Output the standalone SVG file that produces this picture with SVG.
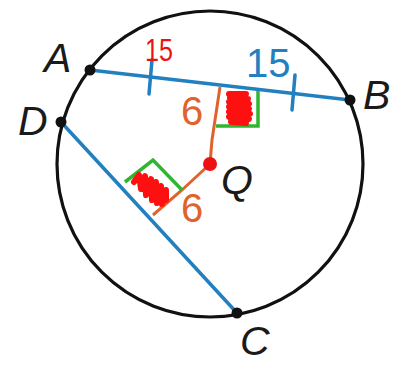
<svg xmlns="http://www.w3.org/2000/svg" width="398" height="371" viewBox="0 0 398 371">
<style>
.lbl{font-family:"Liberation Sans","DejaVu Sans",sans-serif;font-style:italic;font-size:41px;fill:#1a1a1a}
.num{font-family:"Liberation Sans","DejaVu Sans",sans-serif;font-size:40px}
.blue{stroke:#2280c0;stroke-width:3.5;fill:none;stroke-linecap:round}
.org{stroke:#e0622c;stroke-width:3;fill:none}
.grn{stroke:#2fb52f;stroke-width:3.5;fill:none;stroke-linejoin:miter}
.scr{stroke:#ff1010;stroke-width:6;fill:none;stroke-linejoin:round;stroke-linecap:round}
.pt{fill:#111}
</style>
<rect width="398" height="371" fill="#fff"/>
<g id="circle"><circle cx="210" cy="164" r="153" fill="none" stroke="#111" stroke-width="3.2"/></g>
<g id="connectors">
<line class="blue" x1="90" y1="70" x2="350" y2="100"/>
<line class="blue" x1="61" y1="122" x2="237" y2="313"/>
<line class="blue" x1="152" y1="60" x2="149" y2="94"/>
<line class="blue" x1="295" y1="75" x2="292" y2="110"/>
<polyline class="org" points="220,87 212,140 210,164"/>
<polyline class="org" points="210,164 182,190 153,215"/>
<polyline class="grn" points="216,126 258,126 258,91"/>
<polyline class="grn" points="125,182 153,160 182,190"/>
</g>
<g id="scribbles">
<polyline class="scr" points="229,94 246,94 230,98 248,99 229,102 249,104 229,107 249,109 229,112 250,114 229,117 249,119 231,122 246,123"/>
<polyline class="scr" points="134,182 139,175 141,189 145,176 146,195 151,179 152,200 156,182 157,203 161,186 162,204 166,190 166,200"/>
</g>
<g id="Q"><circle cx="210" cy="164" r="7" fill="#ee1111"/><text class="lbl" x="221" y="194">Q</text></g>
<g id="A"><circle class="pt" cx="90" cy="70" r="5.5"/><text class="lbl" x="44" y="72">A</text></g>
<g id="B"><circle class="pt" cx="350" cy="100" r="5.5"/><text class="lbl" x="363" y="109">B</text></g>
<g id="D"><circle class="pt" cx="61" cy="122" r="5.5"/><text class="lbl" x="18" y="135">D</text></g>
<g id="C"><circle class="pt" cx="237" cy="313" r="5.5"/><text class="lbl" x="240" y="355">C</text></g>
<g id="labels">
<text class="num" x="246" y="77" fill="#2280c0">15</text>
<text class="num" x="181" y="125" fill="#e0622c">6</text>
<text class="num" x="181" y="222" fill="#e0622c">6</text>
<text x="145" y="61" fill="#ee1111" font-family="Liberation Sans, sans-serif" font-size="31" textLength="28" lengthAdjust="spacingAndGlyphs">15</text>
</g>
</svg>
